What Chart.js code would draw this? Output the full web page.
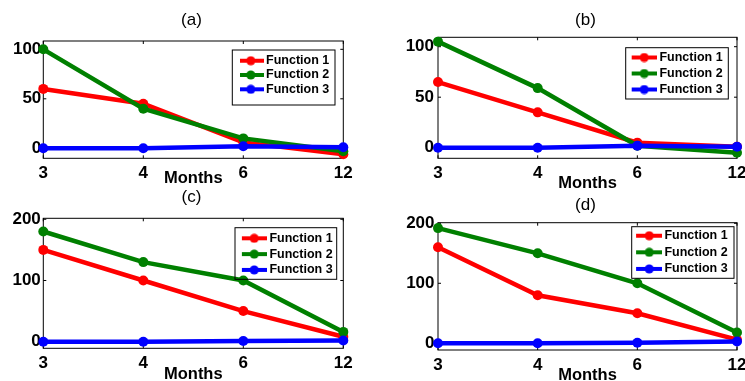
<!DOCTYPE html>
<html><head><meta charset="utf-8">
<script src="https://cdn.jsdelivr.net/npm/chart.js@4.4.1/dist/chart.umd.min.js"></script>
<style>
html,body{margin:0;padding:0;background:#fff;overflow:hidden;width:745px;height:381px;position:relative}
canvas{position:absolute}
</style></head><body>
<canvas id="pa"></canvas><canvas id="pb"></canvas><canvas id="pc"></canvas><canvas id="pd"></canvas>
<script>
// ---- data ----
const months = ['3', '4', '6', '12'];
const seriesNames = ['Function 1', 'Function 2', 'Function 3'];
const panelTitles = ['(a)', '(b)', '(c)', '(d)'];
const xTitle = 'Months';

const aF1 = [60, 45, 6, -6];
const aF2 = [100, 40, 10, -3];
const aF3 = [0, 0, 2, 1];

const bF1 = [65, 35, 5, 1];
const bF2 = [105, 59, 2, -5];
const bF3 = [0, 0, 2, 1];

const cF1 = [150, 100, 50, 8];
const cF2 = [180, 130, 100, 16];
const cF3 = [0, 0, 1, 2];

const dF1 = [160, 80, 50, 6];
const dF2 = [192, 150, 100, 18];
const dF3 = [0, 0, 1, 3];

const yTicksTop = [0, 50, 100];
const yTicksBottom = [0, 100, 200];

// ---- style / layout ----
const colors = ['#ff0000', '#008000', '#0000ff'];
const FONT = "'Liberation Sans', Arial, sans-serif";
const LEG_FS = 12.5, LEG_BW = 18;

const layouts = [
  {id:'pa', left:0,   top:0,   H:190, pl:43.3, pr:343.3, pt:41,   pb:158.3, tx:191.7, ty:20,   my:176.7, ymin:-10.1, ymax:108.4, ypad:2,
   lg:{x:232.3, y:50,   w:102.7, h:55,   sc:250.8, r0:60.7, p:1.8}},
  {id:'pb', left:372, top:0,   H:190, pl:66,   pr:365,   pt:37.3, pb:158.3, tx:213.3, ty:20.5, my:181.7, ymin:-10.5, ymax:109.3, ypad:4,
   lg:{x:253.7, y:47.7, w:102.6, h:51.3, sc:272.2, r0:57.5, p:3.5}},
  {id:'pc', left:0,   top:180, H:201, pl:43.3, pr:343.3, pt:38.3, pb:168.3, tx:191.7, ty:17,   my:192.7, ymin:-10.8, ymax:201.6, ypad:2.5,
   lg:{x:235,   y:47.7, w:101.7, h:51.6, sc:254.2, r0:58.3, p:3.3}},
  {id:'pd', left:372, top:180, H:201, pl:66,   pr:365,   pt:42.7, pb:170,   tx:213.3, ty:25,   my:194,   ymin:-11.2, ymax:201,   ypad:3.5,
   lg:{x:259.7, y:46.7, w:102.3, h:51.6, sc:277.2, r0:55.7, p:4.1}}
];
const geoById = {};
layouts.forEach(g => { geoById[g.id] = g; });

const panelSeries = [[aF1, aF2, aF3], [bF1, bF2, bF3], [cF1, cF2, cF3], [dF1, dF2, dF3]];
const panelTicks = [yTicksTop, yTicksTop, yTicksBottom, yTicksBottom];

function legendImg(color) {
  const c = document.createElement('canvas');
  c.width = 26; c.height = 10;
  const x = c.getContext('2d');
  x.strokeStyle = color; x.lineWidth = 4;
  x.beginPath(); x.moveTo(0, 5); x.lineTo(26, 5); x.stroke();
  x.fillStyle = color;
  x.beginPath(); x.arc(13, 5, 4.6, 0, Math.PI * 2); x.fill();
  return c;
}
const legendImgs = colors.map(legendImg);

const framePlugin = {
  id: 'frame',
  beforeDraw(chart) {
    const g = geoById[chart.canvas.id];
    const lg = chart.legend;
    if (lg) {
      lg.left = g.lg.sc - LEG_BW / 2 - g.lg.p;
      lg.top = g.lg.r0 - g.lg.p - LEG_FS / 2;
      lg.right = lg.left + 400;
      lg.bottom = lg.top + 400;
    }
    const ctx = chart.ctx;
    ctx.save();
    ctx.fillStyle = '#fff';
    ctx.fillRect(g.lg.x, g.lg.y, g.lg.w, g.lg.h);
    ctx.restore();
  },
  beforeDatasetsDraw(chart) {
    const ctx = chart.ctx, a = chart.chartArea;
    const xs = chart.scales.x, ys = chart.scales.y;
    ctx.save();
    ctx.strokeStyle = '#000';
    ctx.lineWidth = 1;
    ctx.strokeRect(a.left, a.top, a.right - a.left, a.bottom - a.top);
    ctx.beginPath();
    xs.ticks.forEach((t, i) => {
      const px = xs.getPixelForTick(i);
      ctx.moveTo(px, a.bottom); ctx.lineTo(px, a.bottom - 3);
      ctx.moveTo(px, a.top); ctx.lineTo(px, a.top + 3);
    });
    ys.ticks.forEach((t) => {
      const py = ys.getPixelForValue(t.value);
      ctx.moveTo(a.left, py); ctx.lineTo(a.left + 3, py);
      ctx.moveTo(a.right, py); ctx.lineTo(a.right - 3, py);
    });
    ctx.stroke();
    ctx.restore();
  },
  afterDraw(chart) {
    const g = geoById[chart.canvas.id], ctx = chart.ctx;
    ctx.save();
    ctx.strokeStyle = '#000';
    ctx.lineWidth = 1;
    ctx.strokeRect(g.lg.x, g.lg.y, g.lg.w, g.lg.h);
    ctx.restore();
  }
};

Chart.defaults.font.family = FONT;
Chart.defaults.color = '#000';

layouts.forEach((g, k) => {
  const cv = document.getElementById(g.id);
  // canvas width chosen so the centred title lands at tx
  const W = Math.round(2 * g.tx);
  cv.width = W; cv.height = g.H;
  cv.style.left = g.left + 'px'; cv.style.top = g.top + 'px';
  cv.style.width = W + 'px'; cv.style.height = g.H + 'px';

  const titlePT = g.ty - 8.5;
  const titlePB = g.pt - 17 - titlePT;

  const datasets = panelSeries[k].map((vals, i) => ({
    label: seriesNames[i],
    data: vals,
    borderColor: colors[i],
    backgroundColor: colors[i],
    pointBackgroundColor: colors[i],
    pointBorderColor: colors[i],
    borderWidth: 4.5,
    pointRadius: 5,
    pointBorderWidth: 0,
    tension: 0,
    clip: false,
    order: 3 - i
  }));

  new Chart(cv, {
    type: 'line',
    data: { labels: months, datasets },
    options: {
      responsive: false,
      animation: false,
      devicePixelRatio: 1,
      events: [],
      layout: { padding: 0 },
      scales: {
        x: {
          type: 'category',
          offset: false,
          grid: { display: false, drawTicks: false, tickLength: 0, offset: false },
          border: { display: false },
          ticks: { font: { size: 17, weight: 'bold', lineHeight: 1 }, padding: 6.5, autoSkip: false, maxRotation: 0 },
          title: { display: true, text: xTitle, font: { size: 16.5, weight: 'bold', lineHeight: 1 },
                   padding: { top: 0, bottom: g.H - g.my - 8.25 - 1.5 } },
          afterFit(s) { s.height = g.H - g.pb; }
        },
        y: {
          type: 'linear',
          position: 'left',
          min: g.ymin, max: g.ymax,
          grid: { display: false, drawTicks: false, tickLength: 0 },
          border: { display: false },
          ticks: { font: { size: 17, weight: 'bold', lineHeight: 1.2 }, padding: g.ypad },
          afterBuildTicks(s) { s.ticks = panelTicks[k].map(v => ({ value: v })); },
          afterFit(s) { s.width = g.pl; }
        },
        yRightSpacer: {
          type: 'linear',
          position: 'right',
          min: 0, max: 1,
          grid: { display: false, drawTicks: false },
          border: { display: false },
          ticks: { display: false },
          afterFit(s) { s.width = W - g.pr; }
        }
      },
      plugins: {
        title: { display: true, text: panelTitles[k], font: { size: 17, weight: 'normal', lineHeight: 1 },
                 padding: { top: titlePT, bottom: titlePB } },
        tooltip: { enabled: false },
        legend: {
          display: true,
          position: 'chartArea',
          align: 'start',
          labels: {
            usePointStyle: true,
            pointStyleWidth: LEG_BW,
            padding: g.lg.p,
            font: { size: LEG_FS, weight: 'bold' },
            color: '#000',
            generateLabels(ch) {
              return ch.data.datasets.map((ds, i) => ({
                text: ds.label, pointStyle: legendImgs[i], fillStyle: ds.borderColor,
                strokeStyle: ds.borderColor, lineWidth: 0, hidden: false, datasetIndex: i, fontColor: '#000'
              }));
            }
          }
        }
      }
    },
    plugins: [framePlugin]
  });
});
</script>
</body></html>
